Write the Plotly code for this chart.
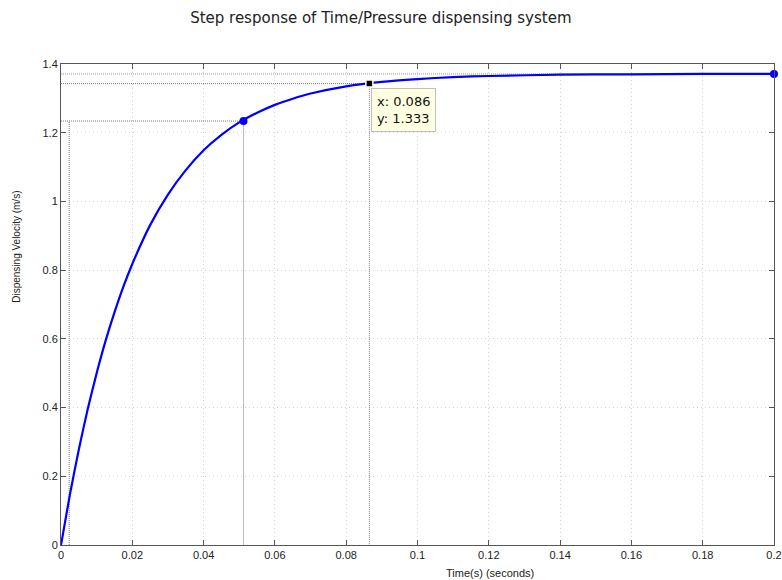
import plotly.graph_objects as go

# Step response data
time_s = [0, 0.0025, 0.005, 0.0075, 0.01, 0.0125, 0.015, 0.0175, 0.02, 0.025, 0.03, 0.035, 0.04,
          0.045, 0.05, 0.055, 0.06, 0.065, 0.07, 0.08, 0.09, 0.10, 0.11, 0.12, 0.14, 0.16, 0.18, 0.2]
velocity = [0, 0.147, 0.278, 0.396, 0.500, 0.594, 0.677, 0.752, 0.818, 0.931, 1.020, 1.091, 1.149,
            1.194, 1.230, 1.258, 1.281, 1.299, 1.314, 1.335, 1.348, 1.356, 1.362, 1.365, 1.369, 1.370, 1.371, 1.371]

# Step characteristics
rise_start_t = 0.0023
rise_end_t = 0.0512
rise_level = 1.234
settle_t = 0.0865
settle_level = 1.343
steady_t = 0.2
steady_level = 1.371
tip_text = ["x: 0.086", "y: 1.333"]

x_ticks = [0, 0.02, 0.04, 0.06, 0.08, 0.1, 0.12, 0.14, 0.16, 0.18, 0.2]
x_tick_labels = ["0", "0.02", "0.04", "0.06", "0.08", "0.1", "0.12", "0.14", "0.16", "0.18", "0.2"]
y_ticks = [0, 0.2, 0.4, 0.6, 0.8, 1, 1.2, 1.4]
y_tick_labels = ["0", "0.2", "0.4", "0.6", "0.8", "1", "1.2", "1.4"]

guide = dict(color="#7a7a7a", width=1, dash="1px,1px")

fig = go.Figure()

# characteristic guide lines
fig.add_trace(go.Scatter(x=[0, rise_end_t, rise_end_t], y=[rise_level, rise_level, 0],
                         mode="lines", line=guide, hoverinfo="skip"))
fig.add_trace(go.Scatter(x=[rise_start_t, rise_start_t], y=[0, rise_level],
                         mode="lines", line=guide, hoverinfo="skip"))
fig.add_trace(go.Scatter(x=[0, settle_t, settle_t], y=[settle_level, settle_level, 0],
                         mode="lines", line=guide, hoverinfo="skip"))
fig.add_trace(go.Scatter(x=[0, steady_t], y=[steady_level, steady_level],
                         mode="lines", line=dict(color="#9a9a9a", width=1, dash="1px,1px"), hoverinfo="skip"))

# response curve
fig.add_trace(go.Scatter(x=time_s, y=velocity, mode="lines",
                         line=dict(color="#0000ff", width=2.2, shape="spline", smoothing=0.6)))

# markers
fig.add_trace(go.Scatter(x=[rise_end_t, steady_t], y=[rise_level, steady_level], mode="markers",
                         marker=dict(color="#0000ff", size=8), cliponaxis=False))
fig.add_trace(go.Scatter(x=[settle_t], y=[settle_level], mode="markers",
                         marker=dict(color="black", size=7, symbol="square",
                                     line=dict(color="#ffffe1", width=1.5))))

axis_common = dict(
    showline=True, linecolor="#555555", linewidth=1, mirror="allticks",
    ticks="inside", ticklen=5, tickcolor="#555555",
    showgrid=True, gridcolor="#d2d2d2", griddash="1px,3px", gridwidth=1,
    zeroline=False, automargin=False,
    tickfont=dict(family="Liberation Sans, Arial, sans-serif", size=11, color="#222222"),
)

fig.update_xaxes(range=[0, 0.2], tickvals=x_ticks, ticktext=x_tick_labels, **axis_common)
fig.update_yaxes(range=[0, 1.4], tickvals=y_ticks, ticktext=y_tick_labels, **axis_common)

fig.add_annotation(x=settle_t, y=settle_level, xref="x", yref="y",
                   text="<br>".join(tip_text), showarrow=False, align="left",
                   xanchor="left", yanchor="top", xshift=2, yshift=-4,
                   bgcolor="#ffffe1", bordercolor="#c0c0c0", borderwidth=1, borderpad=5,
                   font=dict(family="DejaVu Sans, sans-serif", size=13, color="#111111"))

fig.add_annotation(x=0.602, y=0, xref="paper", yref="paper", yanchor="middle", yshift=-28,
                   text="Time(s) (seconds)", showarrow=False,
                   font=dict(family="Liberation Sans, Arial, sans-serif", size=11, color="#222222"))
fig.add_annotation(x=0, y=0.62, xref="paper", yref="paper", xanchor="center", yanchor="middle",
                   xshift=-44, text="Dispensing Velocity (m/s)", textangle=-90, showarrow=False,
                   font=dict(family="Liberation Sans, Arial, sans-serif", size=10, color="#222222"))

fig.update_layout(
    width=782, height=580,
    margin=dict(l=61, r=8, t=64, b=35),
    paper_bgcolor="white", plot_bgcolor="white",
    showlegend=False,
    title=dict(text="Step response of Time/Pressure dispensing system",
               x=0.487, xanchor="center", y=1 - 18 / 580, yanchor="middle",
               font=dict(family="DejaVu Sans, sans-serif", size=15, color="#222222")),
)

fig.write_html("out.html", config={"displayModeBar": False},
               post_script="document.body.style.margin='0';")
